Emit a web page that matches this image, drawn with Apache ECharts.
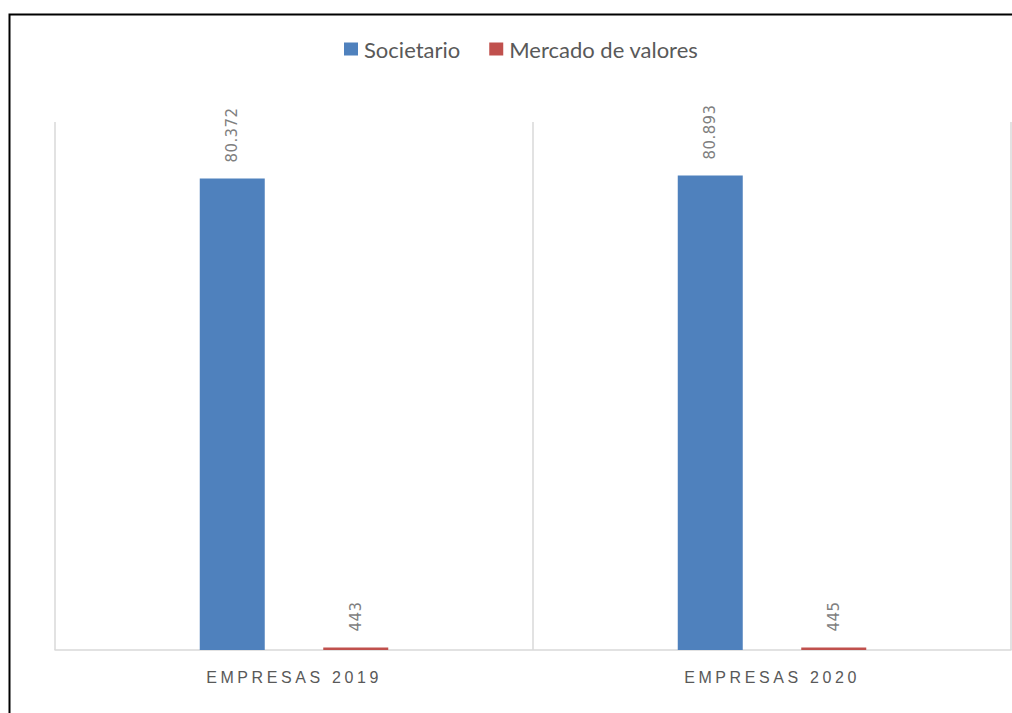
<!DOCTYPE html>
<html>
<head>
<meta charset="utf-8">
<script src="https://cdn.jsdelivr.net/npm/echarts@6/dist/echarts.min.js"></script>
<style>
  html, body { margin: 0; padding: 0; background: #fff; }
  #chart { width: 1012px; height: 713px; }
  /* spaced-out category labels and value labels */
  #chart text[style*="Liberation Sans"] { letter-spacing: 3.6px; }
  #chart text[style*="DejaVu Sans"] { letter-spacing: 0.4px; }
</style>
</head>
<body>
<div id="chart"></div>
<script>
// Categories and series values
const categories = ['EMPRESAS 2019', 'EMPRESAS 2020'];
const societario = [80372, 80893];
const mercadoValores = [443, 445];
const seriesNames = ['Societario', 'Mercado de valores'];

// Thousands with a dot separator: 80372 -> "80.372"
function fmt(v) {
  return String(v).replace(/\B(?=(\d{3})+(?!\d))/g, '.');
}

const valueLabel = {
  show: true,
  position: 'top',
  rotate: 90,
  align: 'left',
  verticalAlign: 'middle',
  distance: 16,
  color: '#7f7f7f',
  fontFamily: 'DejaVu Sans',
  fontSize: 15,
  formatter: p => fmt(p.value)
};

const chart = echarts.init(document.getElementById('chart'), null, { renderer: 'svg' });
chart.setOption({
  animation: false,
  backgroundColor: '#fff',
  graphic: [{
    type: 'rect',
    left: 7, top: 12,
    shape: { width: 1012, height: 712 },
    style: { fill: 'none', stroke: '#000', lineWidth: 2 },
    silent: true
  }],
  legend: {
    data: seriesNames,
    left: 339,
    top: 33,
    icon: 'rect',
    itemWidth: 14,
    itemHeight: 13,
    itemGap: 29,
    textStyle: { color: '#595959', fontFamily: 'Lato', fontSize: 22, padding: [0, 0, 0, 1] }
  },
  grid: { left: 55, right: 1, top: 122, bottom: 63, containLabel: false },
  xAxis: {
    type: 'category',
    data: categories,
    axisLine: { lineStyle: { color: '#d9d9d9', width: 1.5 } },
    axisTick: { show: false },
    splitLine: { show: true, lineStyle: { color: '#d9d9d9', width: 1.5 } },
    axisLabel: { color: '#595959', fontFamily: 'Liberation Sans', fontSize: 16, margin: 19 }
  },
  yAxis: {
    type: 'value',
    min: 0,
    max: 90000,
    show: false,
    splitLine: { show: false }
  },
  series: [
    {
      name: seriesNames[0],
      type: 'bar',
      data: societario,
      barWidth: 65,
      barGap: '90%',
      itemStyle: { color: '#4f81bd' },
      label: valueLabel
    },
    {
      name: seriesNames[1],
      type: 'bar',
      data: mercadoValores,
      barWidth: 65,
      itemStyle: { color: '#c0504d' },
      label: valueLabel
    }
  ]
});
</script>
</body>
</html>
